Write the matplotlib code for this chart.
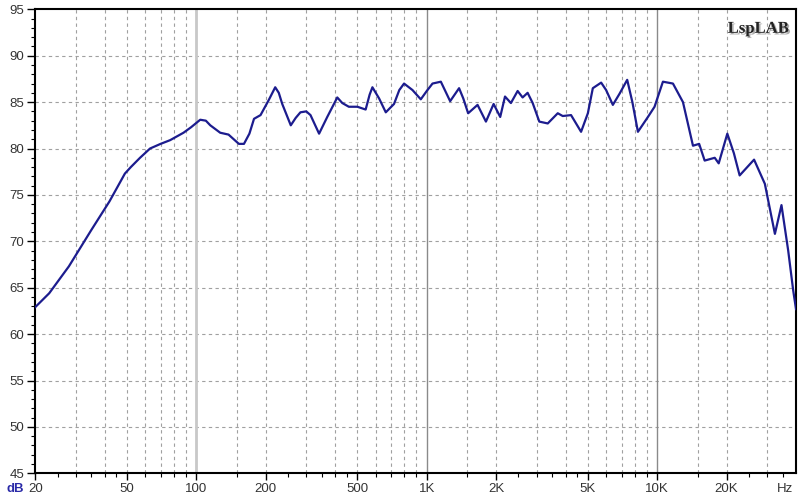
import matplotlib.pyplot as plt
import matplotlib.patheffects as pe
from matplotlib.ticker import FixedLocator, NullFormatter

# frequency response (Hz, dB)
freq = [20, 23, 28, 35, 42, 49, 52, 57, 63, 70, 77, 88, 95, 104, 110, 115,
        127, 138, 153, 161, 170, 178, 190, 206, 220, 228, 236, 257, 270, 283,
        300, 313, 341, 370, 409, 430, 459, 500, 543, 565, 581, 621, 664, 721,
        760, 797, 867, 942, 1000, 1059, 1151, 1263, 1381, 1440, 1512, 1661,
        1806, 1950, 2083, 2185, 2318, 2479, 2605, 2739, 2881, 3078, 3349,
        3701, 3890, 4227, 4672, 5000, 5254, 5710, 6000, 6418, 6861, 7407,
        7800, 8245, 9112, 9734, 10584, 11700, 12930, 14290, 15200, 16060,
        17760, 18480, 20140, 21500, 22780, 26310, 29300, 32400, 34600, 37000,
        38900, 40000]
spl = [62.9, 64.4, 67.3, 71.2, 74.3, 77.3, 78.0, 79.0, 80.0, 80.5, 80.9,
       81.7, 82.3, 83.1, 83.0, 82.5, 81.7, 81.5, 80.5, 80.5, 81.6, 83.2, 83.6,
       85.2, 86.6, 86.0, 84.8, 82.5, 83.3, 83.9, 84.0, 83.6, 81.6, 83.4,
       85.5, 84.9, 84.5, 84.5, 84.2, 85.8, 86.6, 85.4, 83.9, 84.8, 86.3, 87.0,
       86.3, 85.3, 86.2, 87.0, 87.2, 85.1, 86.5, 85.4, 83.8, 84.7, 82.9, 84.8,
       83.4, 85.6, 84.9, 86.2, 85.5, 86.0, 84.9, 82.9, 82.7, 83.8, 83.5,
       83.6, 81.8, 83.8, 86.5, 87.1, 86.3, 84.7, 85.9, 87.4, 85.0, 81.8, 83.4,
       84.5, 87.2, 87.0, 85.0, 80.3, 80.5, 78.7, 79.0, 78.4, 81.6, 79.5,
       77.1, 78.8, 76.2, 70.8, 73.9, 69.0, 64.7, 62.7]

x_labels = {20: "20", 50: "50", 100: "100", 200: "200", 500: "500",
            1000: "1K", 2000: "2K", 5000: "5K", 10000: "10K", 20000: "20K"}
grid_minor = [30, 40, 50, 60, 70, 80, 90, 150, 200, 300, 400, 500, 600, 700,
              800, 900, 1500, 2000, 3000, 4000, 5000, 6000, 7000, 8000, 9000,
              15000, 20000, 30000]
grid_major = [100, 1000, 10000]
tick_extra = [25, 35, 45, 250, 350, 450, 2500, 3500, 4500, 25000, 35000]

plt.rcParams['font.family'] = ['Liberation Sans', 'DejaVu Sans']

fig = plt.figure(figsize=(8, 4.98), dpi=100)
ax = fig.add_axes([0.044, 0.0496, 0.951, 0.9317])
ax.set_xscale('log')
ax.set_xlim(20, 40000)
ax.set_ylim(45, 95)

# grid
for y in range(50, 95, 5):
    ax.axhline(y, color='#a0a0a0', lw=0.8, ls=(0, (3, 3)), zorder=1)
for f in grid_minor:
    ax.axvline(f, color='#a0a0a0', lw=0.8, ls=(0, (3, 3)), zorder=1)
ax.axvline(100, color='#c8c8c8', lw=2.0, zorder=1)
ax.axvline(1000, color='#8a8a8a', lw=1.0, zorder=1)
ax.axvline(10000, color='#8a8a8a', lw=1.0, zorder=1)

ax.plot(freq, spl, color='#1c1c8e', lw=1.6, zorder=3,
        solid_joinstyle='round')

# ticks
ax.xaxis.set_major_locator(FixedLocator(list(x_labels.keys())))
ax.set_xticklabels(list(x_labels.values()))
ax.xaxis.set_minor_locator(FixedLocator(sorted(set(grid_minor + grid_major + tick_extra) - set(x_labels))))
ax.xaxis.set_minor_formatter(NullFormatter())
ax.set_yticks(range(45, 96, 5))
ax.set_yticks(range(45, 96, 1), minor=True)
ax.tick_params(axis='both', which='major', direction='out', length=5, width=1,
               labelsize=9.5, labelcolor='#333333', pad=2)
ax.tick_params(axis='both', which='minor', direction='out', length=3, width=0.8)
ax.tick_params(axis='y', which='major', length=6)

for s in ax.spines.values():
    s.set_linewidth(1.5)
    s.set_color('black')

fig.text(0.981, 0.019, "Hz", fontsize=9.5, color='#333333', ha='center', va='center')
fig.text(0.019, 0.019, "dB", fontsize=9.5, color='#2a2aa8', fontweight='bold',
         ha='center', va='center')

# logo with shadow
ax.text(0.95, 0.958, "LspLAB", transform=ax.transAxes, fontsize=12,
        fontweight='bold', family='Liberation Serif', color='#222222',
        ha='center', va='center', zorder=5,
        path_effects=[pe.withSimplePatchShadow(offset=(1.2, -1.2),
                                               shadow_rgbFace='#999999', alpha=0.8)])

fig.savefig('out.png', dpi=100)
